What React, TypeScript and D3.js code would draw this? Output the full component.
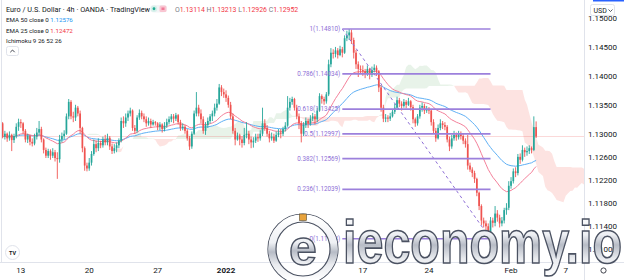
import React from 'react';
import * as d3 from 'd3';

const W = 624;
const H = 280;
const PLOT_L = 2;
const PLOT_R = 584;
const PLOT_B = 262;

// EUR/USD 4h candles, values in price x 10000. Open of each bar = previous close.
const firstOpen = 11318;
const closes = [
  11295, 11300, 11292, 11298, 11289, 11296, 11312, 11320,
  11318, 11305, 11290, 11296, 11286, 11283,
  11295, 11302, 11308, 11290, 11272, 11262,
  11270, 11262, 11268, 11258, 11256, 11290,
  11296, 11300, 11330, 11355, 11330, 11328,
  11345, 11335, 11310, 11275, 11245, 11240,
  11250, 11265, 11282, 11275, 11284, 11280,
  11290, 11285, 11293, 11278, 11270, 11275,
  11280, 11288, 11322, 11318, 11328, 11335,
  11340, 11310, 11305, 11328, 11336, 11330,
  11325, 11318, 11322, 11316, 11320, 11318,
  11312, 11316, 11308, 11314, 11320, 11325,
  11330, 11326, 11332, 11320, 11310, 11312,
  11305, 11292, 11278, 11300, 11335, 11345,
  11335, 11325, 11305, 11315, 11322, 11330,
  11335, 11345, 11352, 11380, 11372, 11368,
  11362, 11350, 11330, 11305, 11290, 11297,
  11290, 11284, 11298, 11300, 11290, 11285,
  11288, 11294, 11292, 11300, 11318, 11310,
  11300, 11292, 11295, 11288, 11298, 11302,
  11300, 11308, 11314, 11345, 11355, 11360,
  11345, 11330, 11318, 11300, 11315, 11322,
  11318, 11326, 11330, 11325, 11340, 11365,
  11360, 11356, 11368, 11420, 11440, 11438,
  11444, 11436, 11446, 11440, 11465, 11470,
  11475, 11462, 11440, 11420, 11412, 11410,
  11408, 11404, 11412, 11402, 11410, 11414,
  11408, 11380, 11345, 11326, 11328, 11326,
  11330, 11338, 11345, 11358, 11352, 11348,
  11355, 11350, 11356, 11346, 11325, 11318,
  11330, 11345, 11348, 11340, 11343, 11340,
  11320, 11305, 11292, 11310, 11318, 11315,
  11312, 11290, 11278, 11292, 11298, 11294,
  11300, 11296, 11288, 11282, 11245, 11238,
  11232, 11222, 11198, 11175, 11150, 11145,
  11140, 11130, 11150, 11146, 11162, 11155,
  11145, 11150, 11168, 11172, 11210, 11218,
  11235, 11232, 11260, 11255, 11272, 11268,
  11270, 11275, 11272, 11311.4, 11295.2,
];
const highs = [
  11320, 11305, 11302, 11304, 11300, 11300, 11318, 11326,
  11325, 11320, 11308, 11300, 11298, 11292,
  11300, 11310, 11322, 11312, 11292, 11276,
  11274, 11273, 11275, 11272, 11268, 11298,
  11302, 11306, 11335, 11360, 11358, 11338,
  11350, 11348, 11340, 11312, 11278, 11250,
  11258, 11270, 11290, 11288, 11292, 11288,
  11295, 11298, 11300, 11296, 11283, 11282,
  11285, 11292, 11328, 11330, 11335, 11340,
  11345, 11342, 11315, 11332, 11342, 11340,
  11335, 11330, 11328, 11326, 11324, 11322,
  11320, 11320, 11318, 11320, 11326, 11330,
  11334, 11334, 11336, 11334, 11324, 11318,
  11315, 11308, 11296, 11304, 11340, 11372,
  11350, 11342, 11330, 11320, 11328, 11334,
  11340, 11352, 11360, 11386, 11384, 11378,
  11375, 11366, 11355, 11335, 11310, 11302,
  11300, 11296, 11310, 11320, 11305, 11295,
  11294, 11300, 11300, 11306, 11345, 11325,
  11315, 11305, 11302, 11300, 11304, 11308,
  11308, 11312, 11320, 11365, 11362, 11364,
  11362, 11350, 11335, 11322, 11320, 11328,
  11326, 11332, 11336, 11334, 11345, 11370,
  11368, 11364, 11372, 11428, 11448, 11446,
  11450, 11448, 11452, 11450, 11470, 11478,
  11481, 11480, 11466, 11445, 11425, 11418,
  11418, 11412, 11418, 11414, 11416, 11420,
  11418, 11410, 11384, 11350, 11334, 11332,
  11336, 11342, 11352, 11364, 11362, 11356,
  11360, 11358, 11362, 11358, 11350, 11328,
  11334, 11350, 11354, 11352, 11348, 11346,
  11342, 11325, 11310, 11316, 11325, 11322,
  11320, 11315, 11295, 11298, 11305, 11302,
  11305, 11304, 11300, 11292, 11298, 11250,
  11242, 11236, 11224, 11200, 11178, 11155,
  11150, 11145, 11156, 11155, 11175, 11168,
  11160, 11156, 11172, 11180, 11218, 11225,
  11240, 11242, 11265, 11266, 11280, 11276,
  11278, 11280, 11278, 11330, 11321.3,
];
const lows = [
  11292, 11290, 11286, 11288, 11270, 11284, 11292, 11305,
  11310, 11300, 11285, 11284, 11280, 11278,
  11280, 11290, 11298, 11285, 11266, 11258,
  11258, 11255, 11258, 11252, 11222, 11250,
  11285, 11290, 11298, 11325, 11325, 11320,
  11322, 11330, 11300, 11268, 11236, 11235,
  11236, 11245, 11262, 11268, 11270, 11275,
  11276, 11280, 11280, 11272, 11265, 11266,
  11268, 11275, 11285, 11310, 11312, 11322,
  11330, 11305, 11300, 11302, 11324, 11325,
  11320, 11312, 11314, 11310, 11314, 11314,
  11306, 11306, 11302, 11304, 11310, 11316,
  11320, 11318, 11322, 11316, 11305, 11306,
  11300, 11288, 11272, 11274, 11298, 11330,
  11330, 11318, 11300, 11298, 11310, 11318,
  11322, 11330, 11340, 11350, 11365, 11362,
  11355, 11345, 11325, 11300, 11280, 11288,
  11280, 11276, 11280, 11292, 11282, 11275,
  11276, 11284, 11286, 11288, 11296, 11305,
  11295, 11285, 11288, 11284, 11286, 11294,
  11292, 11296, 11304, 11312, 11340, 11350,
  11340, 11325, 11308, 11285, 11296, 11310,
  11310, 11314, 11322, 11316, 11320, 11338,
  11352, 11350, 11352, 11365, 11415, 11430,
  11432, 11430, 11434, 11432, 11438, 11460,
  11462, 11455, 11430, 11412, 11398, 11404,
  11400, 11396, 11400, 11394, 11398, 11406,
  11400, 11372, 11338, 11320, 11320, 11320,
  11322, 11328, 11334, 11342, 11346, 11340,
  11345, 11344, 11348, 11340, 11318, 11312,
  11314, 11326, 11338, 11334, 11336, 11334,
  11314, 11300, 11286, 11290, 11306, 11308,
  11306, 11285, 11270, 11274, 11288, 11288,
  11290, 11290, 11282, 11276, 11238, 11234,
  11225, 11215, 11192, 11168, 11142, 11138,
  11132, 11121, 11128, 11138, 11140, 11148,
  11138, 11140, 11145, 11160, 11168, 11205,
  11214, 11225, 11228, 11248, 11252, 11260,
  11262, 11265, 11266, 11270, 11292.6,
];

const priceTicks = [1.15, 1.145, 1.14, 1.135, 1.13, 1.126, 1.122, 1.118, 1.114, 1.11];
const timeLabels = ['13', '20', '27', '2022', '17', '24', 'Feb', '7'];
const timeLabelBars = [8, 38, 68, 98, 158, 187, 223, 247];
const fibRatios = ['1', '0.786', '0.618', '0.5', '0.382', '0.236', '0'];
const fibPrices = [1.1481, 1.14034, 1.13425, 1.12997, 1.12569, 1.12039, 1.11184];
const fibBars = [149, 214];
const ohlcLabels = ['O', 'H', 'L', 'C'];
const ohlcValues = ['1.13114', '1.13213', '1.12926', '1.12952'];
const emaLegend = [
  { name: 'EMA 50 close 0', value: '1.12576', color: '#2196f3' },
  { name: 'EMA 25 close 0', value: '1.12472', color: '#f23645' },
];

const FONT = 'Roboto, "Liberation Sans", Arial, sans-serif';
const GREEN = '#26a69a';
const RED = '#ef5350';

function ema(vals: number[], n: number): number[] {
  const k = 2 / (n + 1);
  let e = vals[0];
  return vals.map((v, i) => {
    e = i === 0 ? v : v * k + e * (1 - k);
    return e;
  });
}

export default function App() {
  const N = closes.length;
  const P = (v: number) => v / 10000;
  const candles = closes.map((c, i) => {
    const o = i === 0 ? firstOpen : closes[i - 1];
    return {
      i,
      o: P(o),
      c: P(c),
      h: P(Math.max(highs[i], o, c)),
      l: P(Math.min(lows[i], o, c)),
    };
  });

  const pitch = 2.28;
  const x = d3.scaleLinear().domain([0, N - 1]).range([2.6, 2.6 + (N - 1) * pitch]);
  const y = d3.scaleLinear().domain([fibPrices[6], fibPrices[0]]).range([238.8, 29]);

  const e50 = ema(closes.map(P), 50);
  const e25 = ema(closes.map(P), 25);
  const line = d3
    .line<number>()
    .x((_, i) => x(i))
    .y((d) => y(d));

  // Ichimoku cloud (9, 26, 52, displacement 26)
  const mid = (s: number, len: number) => {
    const a = Math.max(0, s - len + 1);
    return (
      ((d3.max(highs.slice(a, s + 1)) as number) + (d3.min(lows.slice(a, s + 1)) as number)) /
      2 /
      10000
    );
  };
  const cloud = d3.range(N).map((s) => {
    const a = (mid(s, 9) + mid(s, 26)) / 2;
    const b = mid(s, 52);
    return { i: s + 25, a, b };
  });
  const greenArea = d3
    .area<{ i: number; a: number; b: number }>()
    .x((d) => x(d.i))
    .y0((d) => y(d.b))
    .y1((d) => y(Math.max(d.a, d.b)));
  const redArea = d3
    .area<{ i: number; a: number; b: number }>()
    .x((d) => x(d.i))
    .y0((d) => y(d.a))
    .y1((d) => y(Math.max(d.a, d.b)));

  const bodyW = 1.7;
  const lastClose = candles[N - 1].c;
  const fx0 = x(fibBars[0]);
  const fx1 = x(fibBars[1]);

  return (
    <svg
      width={W}
      height={H}
      viewBox={`0 0 ${W} ${H}`}
      style={{ position: 'absolute', left: 0, top: 0, background: '#fff' }}
      fontFamily={FONT}
    >
      <defs>
        <clipPath id="plot">
          <rect x={PLOT_L} y={0} width={PLOT_R - PLOT_L} height={PLOT_B} />
        </clipPath>
        <linearGradient id="silver" x1="0" y1="0" x2="0" y2="1">
          <stop offset="0" stopColor="#ffffff" />
          <stop offset="0.4" stopColor="#eef0f4" />
          <stop offset="0.55" stopColor="#b7bcc6" />
          <stop offset="0.75" stopColor="#e9ebef" />
          <stop offset="1" stopColor="#ffffff" />
        </linearGradient>
      </defs>
      <rect x={0} y={0} width={W} height={H} fill="#fff" />

      <g clipPath="url(#plot)">
        <path d={greenArea(cloud) || ''} fill="rgba(67,160,71,0.12)" />
        <path d={redArea(cloud) || ''} fill="rgba(244,67,54,0.15)" />
        <line x1={PLOT_L} x2={PLOT_R} y1={y(lastClose)} y2={y(lastClose)} stroke={RED} strokeOpacity={0.22} />
        <path d={line(e50) || ''} fill="none" stroke="#5fb0f5" strokeWidth={1} />
        <path d={line(e25) || ''} fill="none" stroke="#f4809a" strokeWidth={1} />
        {candles.map((d) => {
          const col = d.c >= d.o ? GREEN : RED;
          const top = y(Math.max(d.o, d.c));
          const bot = y(Math.min(d.o, d.c));
          return (
            <g key={d.i}>
              <line x1={x(d.i)} x2={x(d.i)} y1={y(d.h)} y2={y(d.l)} stroke={col} strokeWidth={0.9} />
              <rect x={x(d.i) - bodyW / 2} y={top} width={bodyW} height={Math.max(0.8, bot - top)} fill={col} />
            </g>
          );
        })}
        {/* Fibonacci retracement */}
        <line
          x1={fx0}
          y1={y(fibPrices[0])}
          x2={fx1}
          y2={y(fibPrices[6])}
          stroke="#8e6fd6"
          strokeWidth={1}
          strokeDasharray="3,3"
        />
        {fibPrices.map((p, k) => (
          <g key={k}>
            <line x1={fx0} x2={fx1} y1={y(p)} y2={y(p)} stroke="#9c80dc" strokeWidth={1.6} />
            <text x={fx0 - 2} y={y(p)} dy="0.33em" textAnchor="end" fontSize={6.3} fill="#8e6fd6">
              {`${fibRatios[k]}(${p.toFixed(5)})`}
            </text>
          </g>
        ))}
      </g>

      {/* frame */}
      <line x1={1.5} x2={1.5} y1={0} y2={PLOT_B} stroke="#e0e3eb" />
      <line x1={0} x2={W} y1={PLOT_B + 0.5} y2={PLOT_B + 0.5} stroke="#e0e3eb" />
      <line x1={PLOT_R + 0.5} x2={PLOT_R + 0.5} y1={0} y2={H} stroke="#e0e3eb" />

      {/* price axis */}
      {priceTicks.map((t) => (
        <text key={t} x={588} y={y(t)} dy="0.35em" fontSize={8} fill="#131722">
          {t.toFixed(5)}
        </text>
      ))}
      <rect x={593} y={0} width={31} height={1.5} fill="#2962ff" />
      <rect x={590.5} y={4.5} width={24} height={11} rx={2} fill="#fff" stroke="#e0e3eb" />
      <text x={593.5} y={12.6} fontSize={7} fill="#131722">USD</text>
      <path d="M608.5 9.5 L610.5 11.5 L612.5 9.5" fill="none" stroke="#131722" strokeWidth={0.7} />

      {/* time axis */}
      {timeLabels.map((t, k) => (
        <text
          key={t}
          x={x(timeLabelBars[k])}
          y={270}
          dy="0.35em"
          textAnchor="middle"
          fontSize={8}
          fontWeight={t === '2022' ? 'bold' : 'normal'}
          fill="#131722"
        >
          {t}
        </text>
      ))}
      <circle cx={603.5} cy={270.5} r={2.6} fill="none" stroke="#131722" strokeWidth={0.8} />

      {/* legend */}
      <text x={6} y={9.3} dy="0.35em" fontSize={7.3} fill="#131722">
        Euro / U.S. Dollar · 4h · OANDA · TradingView
      </text>
      <rect x={150} y={5} width={17} height={7.5} rx={3.7} fill="#f3f4f6" />
      <circle cx={154} cy={8.75} r={3.2} fill="#d5f0ea" />
      <circle cx={154} cy={8.75} r={1.4} fill="#22ab94" />
      <rect x={159.5} y={5.5} width={7} height={6.5} rx={1.5} fill="#f9c5d1" />
      <rect x={161.5} y={7.5} width={3} height={2.5} fill="#f07a98" />
      <text x={175} y={9.3} dy="0.35em" fontSize={6.9}>
        {ohlcLabels.map((l, k) => (
          <React.Fragment key={l}>
            <tspan fill="#787b86">{(k ? ' ' : '') + l}</tspan>
            <tspan fill="#f23645">{ohlcValues[k]}</tspan>
          </React.Fragment>
        ))}
      </text>
      {emaLegend.map((e, k) => (
        <text key={e.name} x={6} y={20 + k * 10.5} dy="0.35em" fontSize={6.2}>
          <tspan fill="#131722">{e.name} </tspan>
          <tspan fill={e.color}>{e.value}</tspan>
        </text>
      ))}
      <text x={6} y={40.7} dy="0.35em" fontSize={6.2} fill="#131722">
        Ichimoku 9 26 52 26
      </text>
      <rect x={6.5} y={46.5} width={12} height={9} rx={2} fill="#fff" stroke="#e0e3eb" />
      <path d="M10.3 52.2 L12.5 50 L14.7 52.2" fill="none" stroke="#131722" strokeWidth={0.8} />

      {/* TradingView logo */}
      <circle cx={12.5} cy={252.5} r={7} fill="#fff" stroke="#e0e3eb" />
      <text x={12.5} y={252.8} dy="0.35em" textAnchor="middle" fontSize={5.5} fontWeight="bold" fill="#131722">
        TV
      </text>

      {/* watermark */}
      <g>
        <circle cx={303} cy={249} r={35} fill="none" stroke="#4b5262" strokeWidth={1.2} />
        <circle cx={303} cy={249} r={31} fill="none" stroke="url(#silver)" strokeWidth={7.5} />
        <circle cx={303} cy={249} r={27} fill="none" stroke="#4b5262" strokeWidth={1.2} />
        <rect x={299.5} y={214} width={7} height={6.5} fill="#e8a33c" stroke="#5a4a2a" strokeWidth={0.6} />
        <text
          x={303}
          y={265}
          textAnchor="middle"
          fontSize={50}
          fontWeight="bold"
          fontFamily='"Liberation Sans", Arial, sans-serif'
          fill="url(#silver)"
          stroke="#4b5262"
          strokeWidth={1.4}
        >
          e
        </text>
        <text
          x={343}
          y={263}
          fontSize={62}
          fontWeight="bold"
          fontFamily='"Liberation Sans", Arial, sans-serif'
          fill="url(#silver)"
          stroke="#4b5262"
          strokeWidth={1.6}
          textLength={279}
          lengthAdjust="spacingAndGlyphs"
        >
          ieconomy.io
        </text>
      </g>
    </svg>
  );
}
